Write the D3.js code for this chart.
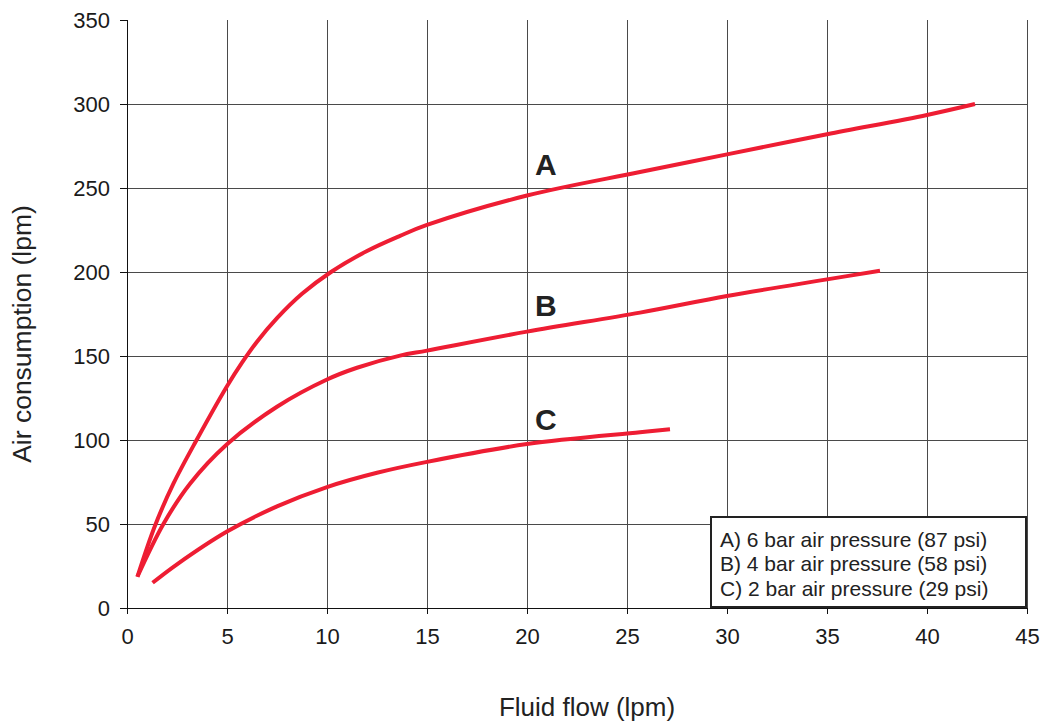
<!DOCTYPE html>
<html>
<head>
<meta charset="utf-8">
<script src="https://cdn.jsdelivr.net/npm/d3@7"></script>
<style>
  html, body { margin: 0; padding: 0; background: #fff; }
  svg { display: block; font-family: "Liberation Sans", Arial, Helvetica, sans-serif; }
</style>
</head>
<body>
<svg id="chart" width="1046" height="724"></svg>
<script>
// Air consumption vs fluid flow at three supply pressures
const xTicks = [0, 5, 10, 15, 20, 25, 30, 35, 40, 45];
const yTicks = [0, 50, 100, 150, 200, 250, 300, 350];

// [fluid flow (lpm), air consumption (lpm)]
const seriesA = [[0.52, 18.6], [1.4, 49], [2.32, 74], [3.48, 100], [5, 132], [5.75, 146], [6.5, 158.5],
  [7.5, 172.5], [8.75, 187], [10.2, 200], [12, 212.5], [13.65, 221.5], [15, 228], [20, 245.5],
  [25.65, 259.5], [30, 270], [35, 282], [40, 293.5], [42.4, 300]];
const seriesB = [[0.52, 18.6], [1.82, 50], [3.15, 74], [5, 97.5], [7.5, 119.8], [10, 136], [11.5, 143],
  [13.65, 150.2], [15, 153.2], [20, 164.5], [25.65, 175.8], [30, 185.7], [35, 195.6], [37.65, 200.8]];
const seriesC = [[1.28, 15], [2.5, 26], [5, 45.5], [7.5, 60.5], [10, 72], [12.5, 80.5], [15, 87],
  [20, 97.6], [25.65, 104.6], [27.15, 106.4]];

const curveNames = ["A", "B", "C"];
const curveLabelPos = [[20.4, 257.7], [20.4, 173.8], [20.4, 106]];
const legendLines = ["A) 6 bar air pressure (87 psi)", "B) 4 bar air pressure (58 psi)", "C) 2 bar air pressure (29 psi)"];
const xTitle = "Fluid flow (lpm)";
const yTitle = "Air consumption (lpm)";

const svg = d3.select("#chart");
const x = d3.scaleLinear().domain([0, 45]).range([127, 1027]);
const y = d3.scaleLinear().domain([0, 350]).range([608, 20]);

// Grid
const grid = svg.append("g").attr("shape-rendering", "crispEdges");
grid.selectAll("line.h").data(yTicks.filter(d => d > 0 && d < 350)).join("line")
  .attr("x1", x(0)).attr("x2", x(45))
  .attr("y1", d => y(d)).attr("y2", d => y(d))
  .attr("stroke", "#4a4a4a").attr("stroke-width", 1);
grid.selectAll("line.v").data(xTicks.filter(d => d > 0)).join("line")
  .attr("x1", d => x(d)).attr("x2", d => x(d))
  .attr("y1", y(0)).attr("y2", y(350))
  .attr("stroke", "#4a4a4a").attr("stroke-width", 1);

// Axes
const yAxis = d3.axisLeft(y).tickValues(yTicks).tickSize(7).tickPadding(10).tickFormat(d3.format("d"));
const xAxis = d3.axisBottom(x).tickValues(xTicks).tickSize(6).tickPadding(14).tickFormat(d3.format("d"));

const gy = svg.append("g").attr("transform", `translate(${x(0)},0)`).call(yAxis);
const gx = svg.append("g").attr("transform", `translate(0,${y(0)})`).call(xAxis);
[gx, gy].forEach(g => {
  g.select(".domain").attr("stroke", "#111").attr("shape-rendering", "crispEdges");
  g.selectAll(".tick line").attr("stroke", "#111").attr("shape-rendering", "crispEdges");
  g.selectAll(".tick text").attr("fill", "#1a1a1a").style("font-size", "22px")
    .style("font-family", "'Liberation Sans', Arial, sans-serif");
});
gy.select(".domain").attr("d", `M0,${y(350)}V${y(0)}`);
gx.select(".domain").attr("d", `M${x(0)},0H${x(45)}`);

// Curves
const line = d3.line().x(d => x(d[0])).y(d => y(d[1])).curve(d3.curveCatmullRom.alpha(0.5));
svg.append("g").selectAll("path").data([seriesA, seriesB, seriesC]).join("path")
  .attr("d", line)
  .attr("fill", "none")
  .attr("stroke", "#ee1d33")
  .attr("stroke-width", 4);

// Curve letters
svg.append("g").selectAll("text").data(curveNames).join("text")
  .attr("x", (d, i) => x(curveLabelPos[i][0]))
  .attr("y", (d, i) => y(curveLabelPos[i][1]))
  .attr("font-size", "30px").attr("font-weight", "bold").attr("fill", "#222")
  .text(d => d);

// Legend
const lg = svg.append("g");
lg.append("rect").attr("x", 711).attr("y", 517).attr("width", 315).attr("height", 90)
  .attr("fill", "#fff").attr("stroke", "#222").attr("stroke-width", 2);
lg.selectAll("text").data(legendLines).join("text")
  .attr("x", 720).attr("y", (d, i) => 546.7 + i * 24.7)
  .attr("font-size", "21px").attr("fill", "#222")
  .text(d => d);

// Axis titles
svg.append("text").attr("x", 587).attr("y", 716).attr("text-anchor", "middle")
  .attr("font-size", "26px").attr("fill", "#222").text(xTitle);
svg.append("text").attr("transform", "translate(31,334) rotate(-90)").attr("text-anchor", "middle")
  .attr("font-size", "26.5px").attr("fill", "#222").text(yTitle);
</script>
</body>
</html>
